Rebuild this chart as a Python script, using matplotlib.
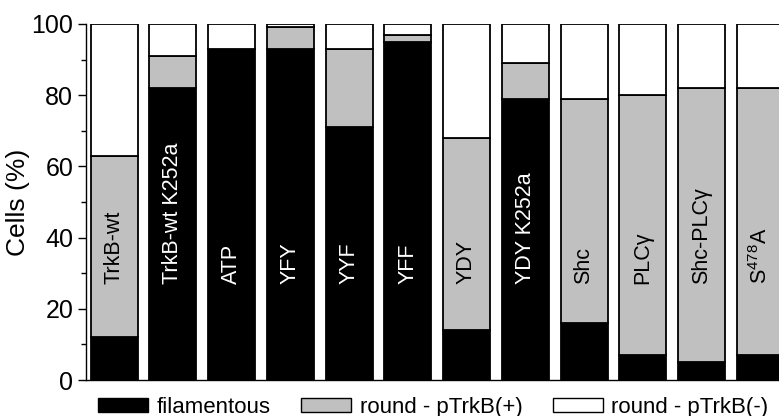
import matplotlib
matplotlib.use("Agg")
import matplotlib.pyplot as plt
from matplotlib.patches import Patch
from matplotlib.ticker import MultipleLocator
import numpy as np

plt.rcParams['font.family'] = ['Liberation Sans', 'DejaVu Sans']
plt.rcParams['mathtext.fontset'] = 'custom'
plt.rcParams['mathtext.rm'] = 'Liberation Sans'
plt.rcParams['mathtext.it'] = 'Liberation Sans'
plt.rcParams['mathtext.default'] = 'regular'

categories = ["TrkB-wt", "TrkB-wt K252a", "ATP", "YFY", "YYF", "YFF", "YDY",
              "YDY K252a", "Shc", "PLCγ", "Shc-PLCγ", "S$^{478}$A"]
filamentous = [12, 82, 93, 93, 71, 95, 14, 79, 16, 7, 5, 7]
round_pos = [51, 9, 0, 6, 22, 2, 54, 10, 63, 73, 77, 75]
round_neg = [37, 9, 7, 1, 7, 3, 32, 11, 21, 20, 18, 18]
series_names = ["filamentous", "round - pTrkB(+)", "round - pTrkB(-)"]
colors = ["black", "#c0c0c0", "white"]

fig = plt.figure(figsize=(7.79, 4.16), dpi=100)
ax = fig.add_axes([0.110, 0.0865, 0.890, 0.856])

x = np.arange(len(categories))
w = 0.80
fil = np.array(filamentous)
pos = np.array(round_pos)
neg = np.array(round_neg)
ax.bar(x, fil, w, color=colors[0], edgecolor="black", linewidth=1.3)
ax.bar(x, pos, w, bottom=fil, color=colors[1], edgecolor="black", linewidth=1.3)
ax.bar(x, neg, w, bottom=fil + pos, color=colors[2], edgecolor="black", linewidth=1.3)

label_y = 27
for i, name in enumerate(categories):
    tc = "white" if fil[i] > label_y else "black"
    ax.text(x[i], label_y, name, rotation=90, ha="center", va="bottom",
            color=tc, fontsize=15.5)

ax.set_xlim(-0.485, 11.32)
ax.set_ylim(0, 100)
ax.set_xticks([])
ax.yaxis.set_major_locator(MultipleLocator(20))
ax.yaxis.set_minor_locator(MultipleLocator(10))
ax.tick_params(axis="y", which="major", length=6, width=1, labelsize=18, pad=3)
ax.tick_params(axis="y", which="minor", length=3.5, width=1)
for s in ["top", "right"]:
    ax.spines[s].set_visible(False)
ax.spines["left"].set_linewidth(1.0)
ax.spines["bottom"].set_linewidth(1.0)
ax.set_ylabel("Cells (%)", fontsize=19)
ax.yaxis.set_label_coords(-0.081, 0.5)

handles = [Patch(facecolor=c, edgecolor="black", linewidth=1.0) for c in colors]
fig.legend(handles, series_names, loc="center left", bbox_to_anchor=(0.1258, 0.0216),
           ncol=3, frameon=False, fontsize=16, handlelength=2.25, handleheight=0.6,
           handletextpad=0.4, columnspacing=1.35, borderaxespad=0, borderpad=0)

fig.savefig("out.png", dpi=100)
